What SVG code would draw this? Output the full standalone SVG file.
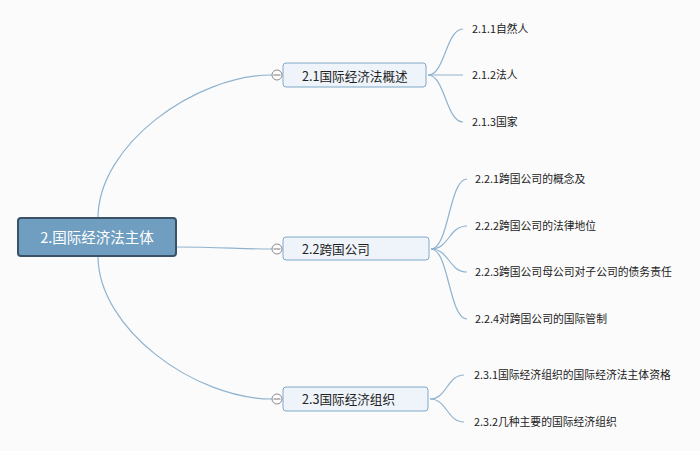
<svg xmlns="http://www.w3.org/2000/svg" width="700" height="451" viewBox="0 0 700 451">
<style>
.bg{fill:#fbfbfb}
.conn{fill:none;stroke:#8fb3cf;stroke-width:1.2}
.root rect{fill:#6f9ec0;stroke:#3b5166;stroke-width:2}
.root text{fill:#ffffff;font-family:"Noto Sans CJK SC","Liberation Sans",sans-serif;font-size:14.5px;text-anchor:middle}
.br rect{fill:#eef4f9;stroke:#7fa8c8;stroke-width:1}
.br text{fill:#222;font-family:"Noto Sans CJK SC","Liberation Sans",sans-serif;font-size:12.6px}
.lf text{fill:#222;font-family:"Noto Sans CJK SC","Liberation Sans",sans-serif;font-size:10.8px}
.tog circle{fill:#ffffff;stroke:#8a8a8a;stroke-width:1}
.tog line{stroke:#777;stroke-width:1}
</style>
<rect class="bg" x="0" y="0" width="700" height="451"/>
<g id="connectors">
<path class="conn" d="M98,218 C98,145 195,75 272,75"/>
<path class="conn" d="M176,247 C220,247 240,249 272,249"/>
<path class="conn" d="M98,256 C98,329 195,399 272,399"/>
<path class="conn" d="M428,75 C445,75 446,29 463,29"/>
<path class="conn" d="M428,75 L463,75"/>
<path class="conn" d="M428,75 C445,75 446,122 463,122"/>
<path class="conn" d="M431,249 C449,249 449,179 467,179"/>
<path class="conn" d="M431,249 C449,249 449,226 467,226"/>
<path class="conn" d="M431,249 C449,249 449,272 467,272"/>
<path class="conn" d="M431,249 C449,249 449,319 467,319"/>
<path class="conn" d="M430,399 C447,399 447,375 464,375"/>
<path class="conn" d="M430,399 C447,399 447,422 464,422"/>
</g>
<g id="root" class="root">
<rect x="18" y="218" width="158" height="38" rx="3"/>
<text x="97" y="243">2.国际经济法主体</text>
</g>
<g id="n2_1" class="br">
<rect x="283" y="63" width="143" height="24" rx="3"/>
<text x="302" y="81">2.1国际经济法概述</text>
</g>
<g id="n2_2" class="br">
<rect x="283" y="237" width="146" height="23" rx="3"/>
<text x="302" y="254">2.2跨国公司</text>
</g>
<g id="n2_3" class="br">
<rect x="283" y="387" width="145" height="24" rx="3"/>
<text x="302" y="404">2.3国际经济组织</text>
</g>
<g id="toggles" class="tog">
<circle cx="277" cy="75" r="5"/><line x1="273.5" y1="75" x2="280.5" y2="75"/>
<circle cx="277" cy="249" r="5"/><line x1="273.5" y1="249" x2="280.5" y2="249"/>
<circle cx="277" cy="399" r="5"/><line x1="273.5" y1="399" x2="280.5" y2="399"/>
</g>
<g id="n2_1_1" class="lf"><text x="472" y="33">2.1.1自然人</text></g>
<g id="n2_1_2" class="lf"><text x="472" y="79">2.1.2法人</text></g>
<g id="n2_1_3" class="lf"><text x="472" y="126">2.1.3国家</text></g>
<g id="n2_2_1" class="lf"><text x="475" y="183">2.2.1跨国公司的概念及</text></g>
<g id="n2_2_2" class="lf"><text x="475" y="230">2.2.2跨国公司的法律地位</text></g>
<g id="n2_2_3" class="lf"><text x="475" y="276">2.2.3跨国公司母公司对子公司的债务责任</text></g>
<g id="n2_2_4" class="lf"><text x="475" y="323">2.2.4对跨国公司的国际管制</text></g>
<g id="n2_3_1" class="lf"><text x="474" y="379">2.3.1国际经济组织的国际经济法主体资格</text></g>
<g id="n2_3_2" class="lf"><text x="474" y="426">2.3.2几种主要的国际经济组织</text></g>
</svg>
